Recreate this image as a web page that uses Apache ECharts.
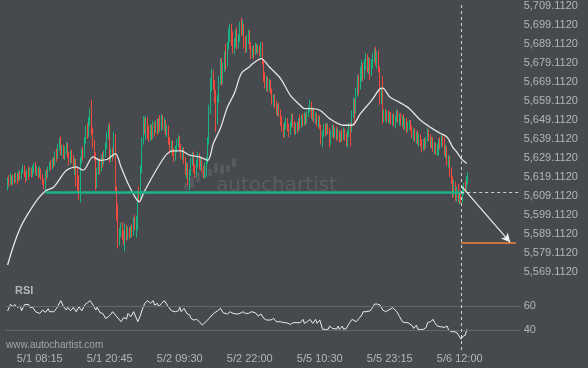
<!DOCTYPE html>
<html><head><meta charset="utf-8">
<script src="https://cdn.jsdelivr.net/npm/echarts@6/dist/echarts.min.js"></script>
<style>html,body{margin:0;padding:0;background:#46494d;}#c{width:588px;height:368px;}</style>
</head><body><div id="c"></div>
<script>
// ---- data ----
const barCount = 368;
const tickIndex = [24, 74, 124, 174, 224, 274, 324];
const tickLabels = ['5/1 08:15', '5/1 20:45', '5/2 09:30', '5/2 22:00', '5/5 10:30', '5/5 23:15', '5/6 12:00'];
const priceTicks = [5569.112, 5579.112, 5589.112, 5599.112, 5609.112, 5619.112, 5629.112, 5639.112, 5649.112, 5659.112, 5669.112, 5679.112, 5689.112, 5699.112, 5709.112];
const rsiLevels = [40, 60];

// [open, close, low, high]; index 0 empty
const candles = ['-',
[5613,5618,5612,5619],[5618,5616,5614,5620],[5616,5619,5615,5621],[5619,5616,5614.5,5620],[5616,5618.5,5615,5620],
[5618.5,5617,5615.5,5621],[5617,5620,5616,5621.5],[5620,5618,5615,5621],[5618,5621,5617,5622.5],[5621,5619,5617,5622],
[5619,5622,5618,5623],[5622,5624.5,5621,5625.5],[5624.5,5621,5619,5625],[5621,5618,5616,5622],[5618,5621.5,5617,5623],
[5621.5,5620,5617.5,5624.5],[5620,5623,5619,5624],[5623,5620.5,5618.5,5624],[5620.5,5622.5,5619,5625],[5622.5,5625,5621,5626.5],
[5625,5621,5620,5627],[5621,5623,5619.5,5625],[5623,5620,5618,5624],[5620,5622.5,5619,5624.5],[5622.5,5619,5617.5,5623.5],
[5619,5617,5615,5620.5],[5617,5614,5612.5,5618],[5614,5621,5611.5,5622],[5621,5619.5,5617.5,5623],[5619.5,5623,5618.5,5624.5],
[5623,5625.5,5622,5627],[5625.5,5624,5622.5,5628],[5624,5627.5,5623,5629],[5627.5,5626,5624,5629.5],[5626,5631,5625,5632.5],
[5631,5629.5,5627,5634],[5629.5,5635,5628.5,5636.5],[5635,5638,5633,5639.5],[5638,5632,5630.5,5640.5],[5632,5634.5,5630,5636],
[5634.5,5630,5628.5,5636],[5630,5633,5628,5635],[5633,5636,5631,5637.5],[5636,5631,5629,5637],[5631,5627,5625,5632],
[5627,5631.5,5626,5633],[5631.5,5629,5626.5,5633.5],[5629,5625,5623,5630.5],[5625,5627.5,5620,5629],[5627.5,5622,5614,5628.5],
[5622,5619,5611,5624],[5619,5609,5607,5620],[5609,5628,5605.5,5629.5],[5628,5632,5626,5634],[5632,5630,5627.5,5635],
[5630,5638,5629,5640],[5638,5644,5636.5,5646],[5644,5641,5639,5647],[5641,5648,5640,5650.5],[5648,5652,5646,5655],
[5652,5643,5641,5659.5],[5643,5636,5634,5645],[5636,5630,5628,5638.5],[5630,5615,5612,5632],[5615,5622,5613,5624],
[5622,5626,5620,5628.5],[5626,5623,5620.5,5629],[5623,5629,5622,5630.5],[5629,5627,5624,5632],[5627,5631,5625.5,5633],
[5631,5635,5629.5,5637],[5635,5641,5633.5,5643],[5641,5645,5639,5646.5],[5645,5629,5626.5,5647.5],[5629,5632,5627,5634],
[5632,5630,5627.5,5634.5],[5630,5640,5629,5642.5],[5640,5612,5610,5641.5],[5612,5598,5596,5614],[5598,5585,5581.5,5605],
[5585,5590,5583,5592],[5590,5593,5587.5,5595],[5593,5589,5586,5595.5],[5589,5586,5583.5,5591],[5586,5592,5580,5594.5],
[5592,5588,5585.5,5594],[5588,5591,5586,5593],[5591,5588.5,5586.5,5592.5],[5588.5,5591.5,5587,5593.5],[5591.5,5589,5587.5,5594],
[5589,5596,5588,5598],[5596,5593,5591,5599],[5593,5597,5587,5598.5],[5597,5611,5591,5612],[5611,5609,5606,5614],
[5609,5623,5607.5,5625],[5623,5638,5621,5640],[5638,5647,5636,5651],[5647,5644,5641.5,5650],[5644,5649,5638.5,5651],
[5649,5643,5639,5650.5],[5643,5640,5637.5,5646],[5640,5645,5638,5647],[5645,5641,5638.5,5646.5],[5641,5646.5,5639,5648.5],
[5646.5,5643,5640,5648],[5643,5647.5,5642,5649],[5647.5,5644,5641,5649.5],[5644,5648,5642,5650],[5648,5645,5643,5651.5],
[5645,5650,5643.5,5652],[5650,5646,5644,5651.5],[5646,5648,5643,5650],[5648,5643,5641,5649],[5643,5645,5640,5646.5],
[5645,5638,5636,5646],[5638,5633,5631,5640],[5633,5636.5,5631.5,5638],[5636.5,5632,5630,5638.5],[5632,5629,5627,5634],
[5629,5634,5627.5,5635.5],[5634,5637,5632,5639],[5637,5639.5,5634.5,5641],[5639.5,5635,5633,5640.5],[5635,5631,5628.5,5636.5],
[5631,5633.5,5628,5635],[5633.5,5628,5626,5634.5],[5628,5622,5620,5629.5],[5622,5625,5618,5627],[5625,5617,5614.5,5626],
[5617,5621,5612,5623],[5621,5627,5619.5,5629],[5627,5631,5625,5632],[5631,5624,5621,5632.5],[5624,5620,5618.5,5626],
[5620,5626,5619,5628],[5626,5630.5,5624,5632],[5630.5,5625,5623,5631.5],[5625,5628,5622.5,5630],[5628,5623,5621.5,5629.5],
[5623,5620.5,5618.5,5625],[5620.5,5625,5618,5626.5],[5625,5628,5619,5629.5],[5628,5638,5626,5640],[5638,5655,5636,5657],
[5655,5668,5652,5671],[5668,5673,5664,5676],[5673,5668,5665,5675],[5668,5662,5658,5670],[5662,5648,5642.5,5665],
[5648,5660,5646.5,5662],[5660,5670,5658,5672],[5670,5678,5667.5,5681.5],[5678,5671,5667,5681.5],[5671,5676,5668,5679],
[5676,5683,5674,5685],[5683,5679,5675,5689],[5679,5688,5677,5690],[5688,5694,5686,5697],[5694,5698,5690,5699.5],
[5698,5690,5688,5699.5],[5690,5685,5684,5695.5],[5685,5689,5683.5,5692],[5689,5694,5687,5696.5],[5694,5688,5686,5697.5],
[5688,5692,5686.5,5694],[5692,5699,5690,5700.5],[5699,5696,5693,5702.8],[5696,5698,5693.5,5701.5],[5698,5690,5686.5,5699.5],
[5690,5686,5684,5693],[5686,5691,5684.5,5693.5],[5691,5695,5689,5696.5],[5695,5688,5686,5696],[5688,5683,5681,5690],
[5683,5686,5681.5,5688],[5686,5684,5681,5688],[5684,5688,5683,5689.5],[5688,5685,5683.5,5689],[5685,5687,5684,5688.5],
[5687,5684.5,5682.5,5688],[5684.5,5689,5681,5690],[5689,5680,5678,5690],[5680,5672,5669,5681],[5672,5667,5665.5,5674],
[5667,5670,5664,5672],[5670,5666,5663.5,5671.5],[5666,5669,5664,5670.5],[5669,5664,5662.5,5670],[5664,5659,5657,5665.5],
[5659,5661.5,5656,5662.5],[5661.5,5657,5655,5662.5],[5657,5653,5651.5,5659],[5653,5656,5651,5657.5],[5656,5652,5650.5,5658],
[5652,5648,5646,5654.5],[5648,5645,5643,5651],[5645,5641,5639.5,5647],[5641,5646,5640,5648],[5646,5649,5644,5650.5],
[5649,5645,5643,5650],[5645,5642,5640,5647],[5642,5646.5,5641,5648],[5646.5,5650,5645,5652],[5650,5647,5645,5652.5],
[5647,5643,5641.5,5648.5],[5643,5646,5641,5647.5],[5646,5644,5642,5648],[5644,5648.5,5643,5650],[5648.5,5646,5644,5652],
[5646,5650,5645,5651.5],[5650,5647,5645.5,5652.5],[5647,5651,5646,5653],[5651,5648,5646.5,5652.5],[5648,5652,5647,5653.5],
[5652,5655,5650.5,5656],[5655,5657.5,5653,5659.5],[5657.5,5651,5649.5,5658.5],[5651,5653,5648.5,5655.5],[5653,5649,5647.5,5655],
[5649,5651.5,5647,5653],[5651.5,5647,5645.5,5652.5],[5647,5649.5,5645,5651],[5649.5,5645,5644,5651.5],[5645,5638,5636,5646.5],
[5638,5642,5634.5,5643.5],[5642,5645,5640,5647],[5645,5642.5,5640.5,5647],[5642.5,5646,5641,5647.5],[5646,5643,5641.5,5647],
[5643,5638,5634.5,5645],[5638,5642,5636,5643.5],[5642,5645,5640,5646.5],[5645,5641,5639,5646.5],[5641,5643.5,5639.5,5645],
[5643.5,5640,5638,5645.5],[5640,5642.5,5638.5,5644.5],[5642.5,5639,5637,5643.5],[5639,5642,5637.5,5643],[5642,5640,5637.5,5644],
[5640,5643,5638.5,5645],[5643,5640.5,5638,5644.5],[5640.5,5638,5635.5,5642],[5638,5642,5634.5,5643.5],[5642,5646,5640,5647.5],
[5646,5644,5635,5647.5],[5644,5652,5642.5,5654],[5652,5658,5650,5661],[5658,5654,5646,5660],[5654,5664,5652.5,5666],
[5664,5670,5661,5672.5],[5670,5666,5662,5673],[5666,5674,5665,5677],[5674,5677,5669,5680.5],[5677,5672,5669.5,5679],
[5672,5678,5670.5,5681],[5678,5682,5675,5684],[5682,5677,5674,5683.5],[5677,5680,5673,5682],[5680,5675,5670,5681.5],
[5675,5678.5,5672,5681],[5678.5,5682,5676,5684],[5682,5685,5679,5686.5],[5685,5680,5677.5,5687.5],[5680,5683,5676,5685],
[5683,5676,5674,5685.5],[5676,5660,5657,5677],[5660,5664,5657.5,5666],[5664,5650,5647,5672],[5650,5653,5648,5654.5],
[5653,5650,5648.5,5654.5],[5650,5652.5,5647.5,5654],[5652.5,5649,5647.5,5654],[5649,5651.5,5647,5653],[5651.5,5648,5646.5,5653],
[5648,5650.5,5646,5652],[5650.5,5647,5645.5,5652.5],[5647,5650,5644.5,5651],[5650,5653,5648,5654.5],[5653,5649.5,5647.5,5654],
[5649.5,5651,5646,5652.5],[5651,5648,5646,5652.5],[5648,5650.5,5645.5,5651.5],[5650.5,5646,5644,5652],[5646,5648.5,5643.5,5650],
[5648.5,5644,5642,5650],[5644,5646,5642.5,5648],[5646,5647.5,5644,5649],[5647.5,5645,5643,5649],[5645,5641,5639.5,5646],
[5641,5643,5638,5644.5],[5643,5639.5,5637.5,5644.5],[5639.5,5642,5636.5,5643],[5642,5638,5636,5643.5],[5638,5640.5,5635,5642],
[5640.5,5637,5635,5641.5],[5637,5634,5632,5639],[5634,5637.5,5633,5639],[5637.5,5635,5633,5639.5],[5635,5638.5,5634,5640],
[5638.5,5643,5637.5,5644.5],[5643,5640,5638,5644],[5640,5636,5634.5,5641.5],[5636,5638.5,5634,5640],[5638.5,5634,5632,5640],
[5634,5636,5631,5637.5],[5636,5632.5,5630.5,5637],[5632.5,5635,5630,5636.5],[5635,5638,5630.5,5639],[5638,5636,5633.5,5640],
[5636,5639.5,5634.5,5641],[5639.5,5637,5635,5641.5],[5637,5632,5630,5640],[5632,5634,5629,5636],[5634,5627,5625,5635],
[5627,5629,5624,5630.5],[5629,5621,5619,5630],[5621,5618,5615.5,5624],[5618,5610,5608,5619.5],[5610,5615,5608.5,5617.5],
[5615,5608,5606.5,5616.5],[5608,5611,5606,5614],[5611,5607,5605.5,5615.5],[5607,5609.5,5604.5,5611],[5609.5,5606,5605,5612.5],
[5606,5611,5605.5,5613],[5611,5614,5609.5,5616],[5614,5613,5611,5617],[5613,5618,5612,5619.5],[5617,5620.5,5615,5621.5]
];

// moving average: [bar index, price]
const maPoints = [[1,5572.8],[5,5582.4],[10,5592.2],[15,5599.0],[22,5606.9],[28,5611.7],[34,5613.8],[41,5620.9],[44,5623.0],[50,5624.3],[55,5622.6],[62,5629.6],[67,5627.8],[72,5628.2],[78,5631.3],[82,5624.3],[87,5615.6],[92,5608.6],[95,5606.0],[98,5610.4],[103,5617.3],[110,5626.1],[115,5631.3],[119,5632.7],[125,5632.7],[131,5630.5],[138,5629.6],[144,5627.8],[148,5636.7],[153,5644.6],[158,5655.6],[163,5663.0],[168,5673.5],[174,5677.1],[176,5678.5],[182,5681.2],[188,5676.8],[196,5670.7],[203,5661.9],[210,5656.7],[213,5654.9],[217,5654.9],[224,5654.1],[231,5649.7],[241,5646.2],[247,5646.2],[253,5652.3],[261,5659.3],[267,5665.4],[269,5665.7],[274,5661.0],[281,5658.2],[288,5654.9],[296,5648.8],[303,5645.1],[310,5642.0],[315,5639.9],[319,5634.6],[322,5632.0],[325,5628.7],[329,5626.1]];

// RSI: [bar index, value]
const rsiPoints = [[1,55.9],[3,61.3],[5,59.4],[6,61.3],[8,58.9],[10,60.0],[11,56.1],[13,61.1],[16,61.3],[17,58.9],[19,58.9],[21,55.3],[24,53.9],[26,56.7],[28,54.8],[30,57.8],[31,55.3],[34,55.3],[36,58.1],[39,64.4],[41,59.4],[43,56.7],[44,58.9],[46,56.1],[48,58.9],[50,55.3],[52,59.4],[54,56.1],[56,60.8],[58,62.7],[60,64.4],[62,60.8],[64,56.7],[65,58.9],[67,54.5],[69,53.9],[71,49.8],[73,51.2],[75,53.4],[76,55.3],[79,51.2],[82,47.1],[84,50.6],[86,49.3],[87,53.9],[89,51.2],[91,55.3],[94,47.1],[96,52.6],[97,56.7],[99,62.2],[101,64.4],[103,62.2],[105,64.4],[106,60.8],[108,62.2],[109,59.4],[111,62.2],[113,64.4],[115,60.8],[116,59.4],[118,56.1],[121,55.3],[123,56.1],[124,58.9],[125,55.3],[127,58.1],[129,53.9],[131,52.6],[132,49.8],[134,48.5],[136,49.0],[138,47.1],[140,44.3],[141,45.7],[143,47.6],[145,49.8],[147,52.6],[149,54.5],[151,56.1],[153,58.1],[155,54.5],[156,55.3],[158,53.4],[160,55.3],[162,53.9],[163,54.8],[165,53.4],[167,53.9],[169,55.3],[171,53.9],[173,53.9],[175,55.3],[176,53.9],[178,54.5],[180,51.7],[182,53.4],[184,49.8],[186,48.5],[187,49.8],[189,48.5],[191,49.8],[193,47.1],[194,48.5],[196,47.1],[198,46.3],[200,46.3],[201,46.3],[203,44.9],[205,46.3],[207,46.3],[210,46.3],[212,49.0],[213,45.7],[215,47.1],[217,49.0],[219,45.7],[221,49.0],[222,45.7],[224,48.5],[226,40.8],[228,40.8],[230,40.8],[231,43.5],[233,41.6],[234,43.0],[236,41.0],[237,43.5],[238,40.8],[240,43.5],[241,40.8],[243,41.6],[245,45.7],[247,49.0],[248,49.8],[250,47.1],[252,49.8],[254,52.6],[255,55.3],[257,55.3],[260,56.1],[262,59.4],[263,61.6],[265,61.6],[267,60.8],[269,56.7],[271,55.3],[272,53.9],[274,57.2],[276,58.6],[277,58.9],[279,55.3],[281,51.2],[283,47.1],[285,46.3],[287,46.3],[290,43.8],[291,41.6],[293,44.3],[294,40.8],[296,40.8],[298,40.8],[300,42.4],[301,46.3],[303,47.1],[305,49.0],[306,46.3],[308,43.5],[310,43.0],[311,44.3],[313,42.4],[315,43.5],[316,40.2],[318,38.9],[320,38.9],[322,38.0],[323,36.1],[325,32.8],[326,34.8],[328,36.1],[329,40.8]];

// pattern annotations
const supportLevel = 5611.0, supportStart = 28;
const signalIndex = 325;
const arrowStart = 5614.4, arrowEndIndex = 360;
const targetLevel = 5584.7, targetEndIndex = 364;
const lastIndex = 367;

// ---- chart ----
const categories = Array.from({length: barCount}, (_, i) => String(i));
const FONT = 'Liberation Sans, Arial, sans-serif';
const TXT = '#b4b5b7';
function fmtPrice(v) {
  const s = v.toFixed(4).split('.');
  return s[0].replace(/\B(?=(\d{3})+(?!\d))/g, ',') + '.' + s[1];
}
const chart = echarts.init(document.getElementById('c'), null, {renderer: 'canvas'});
chart.setOption({
  backgroundColor: '#46494d',
  animation: false,
  textStyle: {fontFamily: FONT},
  grid: [
    {left: 5.5, right: 67.3, top: 4, height: 286},
    {left: 5.5, right: 67.3, top: 290, height: 60}
  ],
  xAxis: [
    {type: 'category', gridIndex: 0, data: categories, show: false},
    {type: 'category', gridIndex: 1, data: categories,
     axisLine: {show: false}, axisTick: {show: false}, splitLine: {show: false},
     axisLabel: {color: TXT, fontSize: 11, margin: 3, fontFamily: FONT,
       interval: (i) => tickIndex.indexOf(i) >= 0,
       formatter: (v, i) => { const k = tickIndex.indexOf(i); return k >= 0 ? tickLabels[k] : ''; }}}
  ],
  yAxis: [
    {type: 'value', gridIndex: 0, position: 'right', min: 5559.65, max: 5709.63,
     axisLine: {show: false}, axisTick: {show: false}, splitLine: {show: false},
     axisLabel: {customValues: priceTicks, color: TXT, fontSize: 11, margin: 3, fontFamily: FONT,
       formatter: (v) => fmtPrice(v)}},
    {type: 'value', gridIndex: 1, position: 'right', min: 23.83, max: 73.17,
     axisLine: {show: false}, axisTick: {show: false}, splitLine: {show: false},
     axisLabel: {customValues: rsiLevels, color: TXT, fontSize: 11, margin: 3, fontFamily: FONT}}
  ],
  graphic: [
    {type: 'group', z: 0, children: [
      {type: 'rect', shape: {x: 184, y: 183, width: 4, height: 7, r: 1}, style: {fill: '#56595d'}},
      {type: 'rect', shape: {x: 190, y: 177, width: 4, height: 11, r: 1}, style: {fill: '#56595d'}},
      {type: 'rect', shape: {x: 196, y: 172, width: 4, height: 10, r: 1}, style: {fill: '#56595d'}},
      {type: 'rect', shape: {x: 202, y: 167, width: 4, height: 11, r: 1}, style: {fill: '#56595d'}},
      {type: 'rect', shape: {x: 208, y: 169, width: 4, height: 7, r: 1}, style: {fill: '#56595d'}},
      {type: 'rect', shape: {x: 214, y: 163, width: 4, height: 10, r: 1}, style: {fill: '#56595d'}},
      {type: 'rect', shape: {x: 220, y: 165, width: 4, height: 9, r: 1}, style: {fill: '#56595d'}},
      {type: 'rect', shape: {x: 226, y: 165, width: 4, height: 7, r: 1}, style: {fill: '#56595d'}},
      {type: 'rect', shape: {x: 232, y: 158, width: 4, height: 9, r: 1}, style: {fill: '#56595d'}},
      {type: 'text', style: {x: 216, y: 186, text: 'autochartist', fill: '#5a5d61',
        font: '20px "DejaVu Sans", sans-serif', textVerticalAlign: 'middle'}}
    ]},
    {type: 'text', z: 5, style: {x: 15, y: 291, text: 'RSI', fill: TXT,
      font: 'bold 11px ' + FONT, textVerticalAlign: 'middle'}},
    {type: 'text', z: 5, style: {x: 6, y: 345, text: 'www.autochartist.com', fill: '#a3a4a6',
      font: '10px ' + FONT, textVerticalAlign: 'middle'}}
  ],
  series: [
    {type: 'candlestick', xAxisIndex: 0, yAxisIndex: 0, data: candles, barWidth: 1,
     itemStyle: {color: '#17b581', color0: '#f04a3f', borderColor: '#17b581', borderColor0: '#f04a3f', borderWidth: 1},
     markLine: {silent: true, symbol: ['none', 'none'], label: {show: false}, animation: false,
       data: [
         {xAxis: signalIndex, lineStyle: {color: '#d2d2d2', type: [3, 3], width: 1}},
         [{coord: [supportStart, supportLevel], lineStyle: {color: '#1db287', width: 2.5, type: 'solid'}},
          {coord: [signalIndex, supportLevel]}],
         [{coord: [signalIndex, supportLevel], lineStyle: {color: '#d2d2d2', width: 1, type: [3, 3]}},
          {coord: [lastIndex, supportLevel]}],
         [{coord: [signalIndex, targetLevel], lineStyle: {color: '#f5843d', width: 1.5, type: 'solid'}},
          {coord: [targetEndIndex, targetLevel]}],
         [{coord: [signalIndex, arrowStart], symbol: 'none', lineStyle: {color: '#eeeeee', width: 1.2, type: 'solid'}},
          {coord: [arrowEndIndex, targetLevel], symbol: 'arrow', symbolSize: [7, 9]}]
       ]}},
    {type: 'line', xAxisIndex: 0, yAxisIndex: 0, data: maPoints, smooth: 0.3, showSymbol: false,
     lineStyle: {color: '#e4e4e4', width: 1.3}, z: 3},
    {type: 'line', xAxisIndex: 1, yAxisIndex: 1, data: rsiPoints, showSymbol: false,
     lineStyle: {color: '#ececec', width: 1}, z: 3,
     markLine: {silent: true, symbol: ['none', 'none'], label: {show: false}, animation: false,
       data: [
         {yAxis: rsiLevels[0], lineStyle: {color: '#62676a', width: 1, type: 'solid'}},
         {yAxis: rsiLevels[1], lineStyle: {color: '#62676a', width: 1, type: 'solid'}},
         {xAxis: signalIndex, lineStyle: {color: '#d2d2d2', type: [3, 3], width: 1}}
       ]}}
  ]
});
</script>
</body></html>
